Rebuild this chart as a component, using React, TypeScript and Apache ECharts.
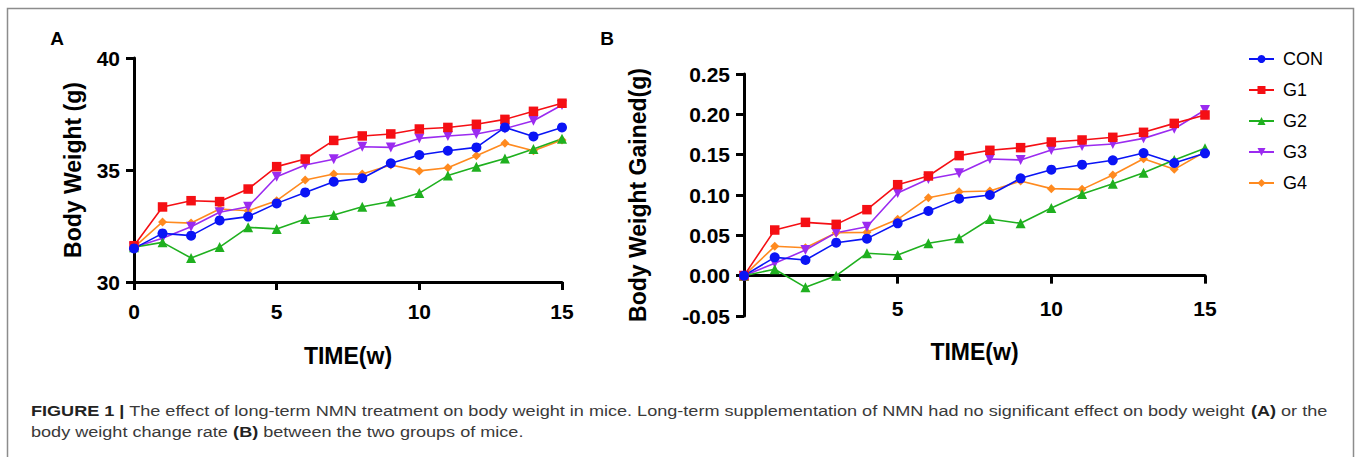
import React, { useEffect, useRef } from "react";
import * as echarts from "echarts";

const weeks = [0, 1, 2, 3, 4, 5, 6, 7, 8, 9, 10, 11, 12, 13, 14, 15];
const groups = ["CON", "G1", "G2", "G3", "G4"];

// Panel A: Body Weight (g)
const conA = [31.5, 32.17, 32.07, 32.75, 32.92, 33.51, 34.0, 34.48, 34.63, 35.3, 35.67, 35.86, 36.01, 36.9, 36.5, 36.9];
const g1A = [31.62, 33.35, 33.63, 33.59, 34.15, 35.15, 35.49, 36.32, 36.52, 36.61, 36.83, 36.9, 37.04, 37.26, 37.62, 37.98];
const g2A = [31.55, 31.77, 31.07, 31.56, 32.44, 32.37, 32.81, 32.99, 33.36, 33.59, 33.97, 34.75, 35.15, 35.51, 35.94, 36.4];
const g3A = [31.55, 31.95, 32.47, 33.11, 33.36, 34.7, 35.22, 35.48, 36.04, 36.01, 36.41, 36.52, 36.61, 36.85, 37.2, 37.9];
const g4A = [31.55, 32.68, 32.63, 33.26, 33.18, 33.63, 34.55, 34.82, 34.82, 35.22, 34.96, 35.1, 35.64, 36.19, 35.86, 36.34];

// Panel B: Body Weight Gained (g)
const conB = [0, 0.0227, 0.0194, 0.0409, 0.0459, 0.0649, 0.0802, 0.0955, 0.1, 0.1207, 0.1314, 0.1376, 0.143, 0.152, 0.1397, 0.1517];
const g1B = [0, 0.0566, 0.0661, 0.0636, 0.0818, 0.1128, 0.1236, 0.1488, 0.1554, 0.1587, 0.1657, 0.1682, 0.1715, 0.1777, 0.1888, 0.1992];
const g2B = [0, 0.0079, -0.0145, 0.0, 0.0277, 0.0256, 0.0401, 0.0463, 0.0702, 0.0649, 0.0839, 0.1012, 0.114, 0.1277, 0.1434, 0.1579];
const g3B = [0, 0.0153, 0.0318, 0.0533, 0.0607, 0.1025, 0.1198, 0.1269, 0.1446, 0.1434, 0.1558, 0.1607, 0.1632, 0.1702, 0.1822, 0.2054];
const g4B = [0, 0.0364, 0.0347, 0.0533, 0.0537, 0.0698, 0.0967, 0.1041, 0.105, 0.1174, 0.1079, 0.107, 0.1248, 0.145, 0.1318, 0.1537];

const captionLine1 =
  "{b|FIGURE 1 |} The effect of long-term NMN treatment on body weight in mice. Long-term supplementation of NMN had no significant effect on body weight {b|(A)} or the";
const captionLine2 = "body weight change rate {b|(B)} between the two groups of mice.";

const FONT = "'Liberation Sans', Arial, sans-serif";

const styles: Record<string, { color: string; symbol: string; size: number; rotate: number }> = {
  CON: { color: "#0a14f5", symbol: "circle", size: 10, rotate: 0 },
  G1: { color: "#f50f14", symbol: "rect", size: 9.5, rotate: 0 },
  G2: { color: "#1fb01f", symbol: "triangle", size: 10, rotate: 0 },
  G3: { color: "#9b2bf0", symbol: "triangle", size: 10, rotate: 180 },
  G4: { color: "#ff8a1f", symbol: "diamond", size: 9, rotate: 0 },
};

const dataA: Record<string, number[]> = { CON: conA, G1: g1A, G2: g2A, G3: g3A, G4: g4A };
const dataB: Record<string, number[]> = { CON: conB, G1: g1B, G2: g2B, G3: g3B, G4: g4B };

const drawOrder = ["G4", "G3", "G2", "G1", "CON"];

function makeSeries(name: string, data: number[], idx: number) {
  const s = styles[name];
  return {
    name,
    type: "line",
    xAxisIndex: idx,
    yAxisIndex: idx,
    data: weeks.map((w, i) => [w, data[i]]),
    symbol: s.symbol,
    symbolSize: s.size,
    symbolRotate: s.rotate,
    showAllSymbol: true,
    lineStyle: { color: s.color, width: 1.6 },
    itemStyle: { color: s.color },
    z: 3,
  };
}

const axisLineA = { show: true, onZero: false, lineStyle: { color: "#000", width: 3 } };
const axisTick = { show: true, length: 8, lineStyle: { color: "#000", width: 3 } };
const labelStyle = { color: "#000", fontSize: 21, fontWeight: "bold" as const, fontFamily: FONT };
const nameStyle = { color: "#000", fontSize: 23, fontWeight: "bold" as const, fontFamily: FONT };

// Panel B grid geometry: the x axis sits at y = 0
const gridBTop = 74;
const gridBHeight = 242;
const yBMin = -0.05;
const yBMax = 0.25;
const xBOffset = -gridBHeight * ((0 - yBMin) / (yBMax - yBMin));

const captionScaleX = 1.167;

export default function App() {
  const ref = useRef<HTMLDivElement>(null);
  useEffect(() => {
    if (!ref.current) return;
    const chart = echarts.init(ref.current, null, { renderer: "svg" });
    const series: any[] = [];
    drawOrder.forEach((g) => series.push(makeSeries(g, dataA[g], 0)));
    drawOrder.forEach((g) => series.push(makeSeries(g, dataB[g], 1)));
    const captionStyle = (text: string) => ({
      text,
      fontSize: 15.5,
      fontFamily: FONT,
      fill: "#3a3a3a",
      verticalAlign: "middle",
      rich: { b: { fontWeight: "bold", fontSize: 15.5, fontFamily: FONT, fill: "#222" } },
    });
    chart.setOption({
      animation: false,
      backgroundColor: "#fff",
      grid: [
        { left: 134, top: 58, width: 428, height: 224 },
        { left: 744, top: gridBTop, width: 461, height: gridBHeight },
      ],
      xAxis: [
        {
          type: "value",
          gridIndex: 0,
          min: 0,
          max: 15,
          interval: 5,
          splitLine: { show: false },
          axisLine: axisLineA,
          axisTick,
          axisLabel: { ...labelStyle, margin: 19 },
          name: "TIME(w)",
          nameLocation: "middle",
          nameGap: 62,
          nameTextStyle: nameStyle,
        },
        {
          type: "value",
          gridIndex: 1,
          min: 0,
          max: 15,
          interval: 5,
          offset: xBOffset,
          splitLine: { show: false },
          axisLine: axisLineA,
          axisTick,
          axisLabel: { ...labelStyle, margin: 22, formatter: (v: number) => (v === 0 ? "" : String(v)) },
          name: "TIME(w)",
          nameLocation: "middle",
          nameGap: 65,
          nameTextStyle: nameStyle,
        },
      ],
      yAxis: [
        {
          type: "value",
          gridIndex: 0,
          min: 30,
          max: 40,
          interval: 5,
          splitLine: { show: false },
          axisLine: axisLineA,
          axisTick,
          axisLabel: { ...labelStyle, margin: 14 },
          name: "Body Weight (g)",
          nameLocation: "middle",
          nameGap: 50,
          nameTextStyle: nameStyle,
        },
        {
          type: "value",
          gridIndex: 1,
          min: yBMin,
          max: yBMax,
          interval: 0.05,
          splitLine: { show: false },
          axisLine: axisLineA,
          axisTick,
          axisLabel: { ...labelStyle, margin: 14, formatter: (v: number) => v.toFixed(2) },
          name: "Body Weight Gained(g)",
          nameLocation: "middle",
          nameGap: 95,
          nameTextStyle: nameStyle,
        },
      ],
      legend: {
        data: groups,
        orient: "vertical",
        left: 1243,
        top: 45,
        itemWidth: 25,
        itemHeight: 10,
        itemGap: 13,
        textStyle: { color: "#000", fontSize: 18, fontFamily: FONT, padding: [0, 0, 0, 4] },
      },
      graphic: [
        {
          type: "rect",
          shape: { x: 7.5, y: 8.5, width: 1346, height: 470 },
          style: { fill: "none", stroke: "#8c8c8c", lineWidth: 1.5 },
          silent: true,
        },
        {
          type: "text",
          x: 57,
          y: 38,
          style: { text: "A", fontSize: 19, fontWeight: "bold", fontFamily: FONT, fill: "#000", align: "center", verticalAlign: "middle" },
        },
        {
          type: "text",
          x: 607,
          y: 38,
          style: { text: "B", fontSize: 19, fontWeight: "bold", fontFamily: FONT, fill: "#000", align: "center", verticalAlign: "middle" },
        },
        {
          type: "text",
          x: 31,
          y: 411,
          scaleX: captionScaleX,
          style: captionStyle(captionLine1),
        },
        {
          type: "text",
          x: 31,
          y: 432,
          scaleX: captionScaleX,
          style: captionStyle(captionLine2),
        },
      ],
      series,
    });
    return () => chart.dispose();
  }, []);
  return <div ref={ref} style={{ position: "fixed", left: 0, top: 0, width: 1358, height: 457 }} />;
}
